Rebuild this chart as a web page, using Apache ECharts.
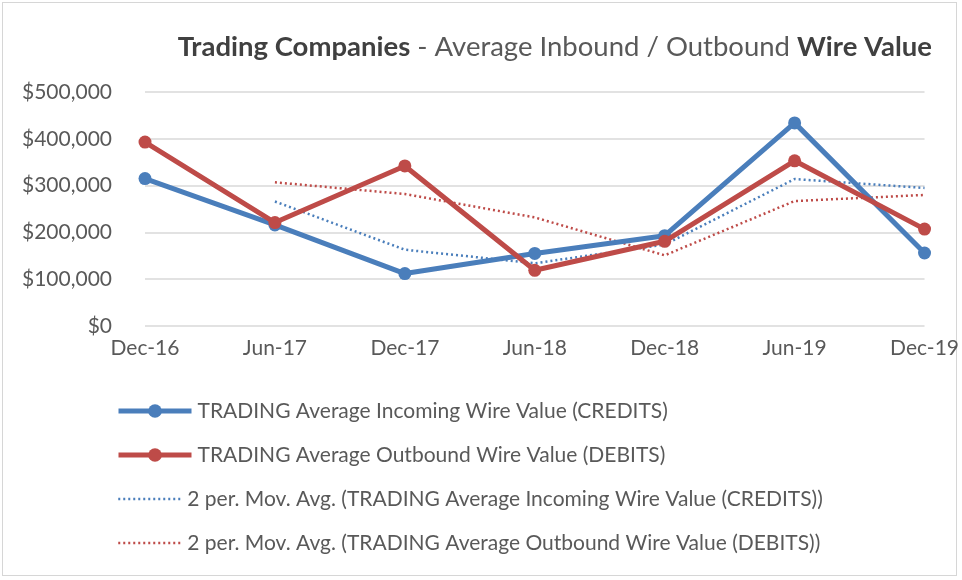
<!DOCTYPE html>
<html>
<head>
<meta charset="utf-8">
<script src="https://cdn.jsdelivr.net/npm/echarts@6/dist/echarts.min.js"></script>
<style>
html,body{margin:0;padding:0;background:#fff;}
#wrap{position:absolute;left:2px;top:2px;width:955px;height:574px;border:1.5px solid #d6d6d6;box-sizing:border-box;}
#chart{position:absolute;left:0;top:0;width:962px;height:580px;}
</style>
</head>
<body>
<div id="wrap"></div>
<div id="chart"></div>
<script>
const categories = ['Dec-16','Jun-17','Dec-17','Jun-18','Dec-18','Jun-19','Dec-19'];
const credits = [315000, 216000, 112000, 155000, 193000, 434000, 156000];
const debits = [393000, 221000, 342000, 119000, 181000, 353000, 207000];
const creditsMovAvg = [null, 266000, 163000, 134000, 174000, 314000, 295000];
const debitsMovAvg = [null, 307000, 282000, 232000, 151000, 267000, 280000];
const seriesNames = [
  'TRADING Average Incoming Wire Value (CREDITS)',
  'TRADING Average Outbound Wire Value (DEBITS)',
  '2 per. Mov. Avg. (TRADING Average Incoming Wire Value (CREDITS))',
  '2 per. Mov. Avg. (TRADING Average Outbound Wire Value (DEBITS))'
];
const BLUE = '#4A7EBB', RED = '#BE4B48';
const FONT = 'Lato';
const legendText = { color: '#595959', fontFamily: FONT, fontSize: 21, lineHeight: 24 };

const chart = echarts.init(document.getElementById('chart'), null, {renderer:'canvas'});
chart.setOption({
  backgroundColor: 'transparent',
  animation: false,
  title: {
    text: '{b|Trading Companies} - Average Inbound / Outbound {b|Wire Value}',
    right: 25, top: 28,
    textStyle: {
      fontFamily: FONT, fontSize: 27.5, color: '#595959', fontWeight: 'normal',
      rich: { b: { fontFamily: FONT, fontSize: 27.5, color: '#404040', fontWeight: 'bold' } }
    }
  },
  grid: { left: 145, right: 37, top: 92, bottom: 254, containLabel: false },
  xAxis: {
    type: 'category', data: categories, boundaryGap: false,
    axisLine: { show: false }, axisTick: { show: false },
    axisLabel: { color: '#595959', fontFamily: FONT, fontSize: 21, margin: 12 },
    splitLine: { show: false }
  },
  yAxis: {
    type: 'value', min: 0, max: 500000, interval: 100000,
    axisLine: { show: false }, axisTick: { show: false },
    axisLabel: {
      color: '#595959', fontFamily: FONT, fontSize: 21, margin: 33,
      formatter: v => '$' + v.toLocaleString('en-US')
    },
    splitLine: { lineStyle: { color: '#d9d9d9', width: 1.5 } }
  },
  legend: [
    {
      orient: 'vertical', left: 116, top: 399, padding: 0,
      itemWidth: 73, itemHeight: 17, itemGap: 20,
      textStyle: Object.assign({ padding: [0,0,0,1] }, legendText),
      data: [
        { name: seriesNames[0], lineStyle: { width: 5 } },
        { name: seriesNames[1], lineStyle: { width: 5 } }
      ]
    },
    {
      orient: 'vertical', left: 117, top: 487, padding: 0,
      itemWidth: 65, itemHeight: 14, itemGap: 20,
      textStyle: Object.assign({ padding: [0,0,0,-1] }, legendText),
      data: [
        { name: seriesNames[2], itemStyle: { opacity: 0 }, lineStyle: { width: 2.5 } },
        { name: seriesNames[3], itemStyle: { opacity: 0 }, lineStyle: { width: 2.5 } }
      ]
    }
  ],
  series: [
    { name: seriesNames[0], type: 'line', data: credits, color: BLUE,
      symbol: 'circle', symbolSize: 13, lineStyle: { width: 5, color: BLUE }, itemStyle: { color: BLUE }, z: 4 },
    { name: seriesNames[1], type: 'line', data: debits, color: RED,
      symbol: 'circle', symbolSize: 13, lineStyle: { width: 5, color: RED }, itemStyle: { color: RED }, z: 5 },
    { name: seriesNames[2], type: 'line', data: creditsMovAvg, color: BLUE, connectNulls: false,
      symbol: 'none', lineStyle: { width: 2.5, color: BLUE, type: [2, 3] }, z: 2 },
    { name: seriesNames[3], type: 'line', data: debitsMovAvg, color: RED,
      symbol: 'none', lineStyle: { width: 2.5, color: RED, type: [2, 3] }, z: 2 }
  ]
});
</script>
</body>
</html>
